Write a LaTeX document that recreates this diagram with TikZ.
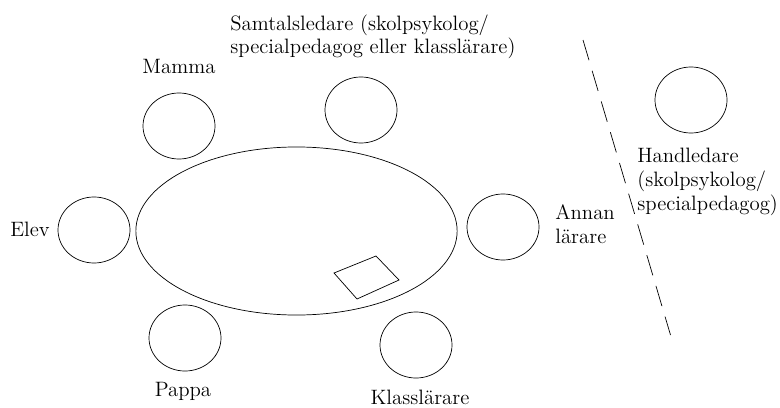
\documentclass[tikz,border=0pt]{standalone}
\usetikzlibrary{shapes.geometric}

\begin{document}
\begin{tikzpicture}[x=0.025cm,y=-0.025cm,line width=0.5pt,
  seat/.style={draw,ellipse,inner sep=0pt,minimum width=1.8cm,minimum height=1.65cm},
  roll/.style={inner sep=0pt,font=\fontsize{14.8}{17}\selectfont,align=left}]
\useasboundingbox (0,0) rectangle (780,407);
\node[draw,ellipse,inner sep=0pt,minimum width=8.03cm,minimum height=4.2cm] (bord) at (296.5,231) {};
\draw (334,273) -- (376,256) -- (399,280) -- (357,299) -- cycle;

\node[seat] (mamma) at (179,126) {};
\node[seat] (samtal) at (361,110) {};
\node[seat] (elev) at (94,230) {};
\node[seat] (annan) at (503,227) {};
\node[seat] (pappa) at (185,338) {};
\node[seat] (klass) at (416,345) {};
\node[seat] (handl) at (691,100) {};

\node at (230,54) [roll,anchor=base west] (samtaltext) {Samtalsledare (skolpsykolog/\\specialpedagog eller klasslärare)};
\node at (179,73) [roll,anchor=base] (mammatext) {Mamma};
\node at (10,236) [roll,anchor=base west] (elevtext) {Elev};
\node at (555,243) [roll,anchor=base west] (annantext) {Annan\\lärare};
\node at (183,396) [roll,anchor=base] (pappatext) {Pappa};
\node at (420,404) [roll,anchor=base] (klasstext) {Klasslärare};
\node at (637,210) [roll,anchor=base west] (handltext) {Handledare\\(skolpsykolog/\\specialpedagog)};

\coordinate (granstopp) at (583,40);
\coordinate (gransbotten) at (670.5,335);
\draw[dash pattern=on 15pt off 7.8pt] (granstopp) -- (gransbotten);
\end{tikzpicture}
\end{document}
